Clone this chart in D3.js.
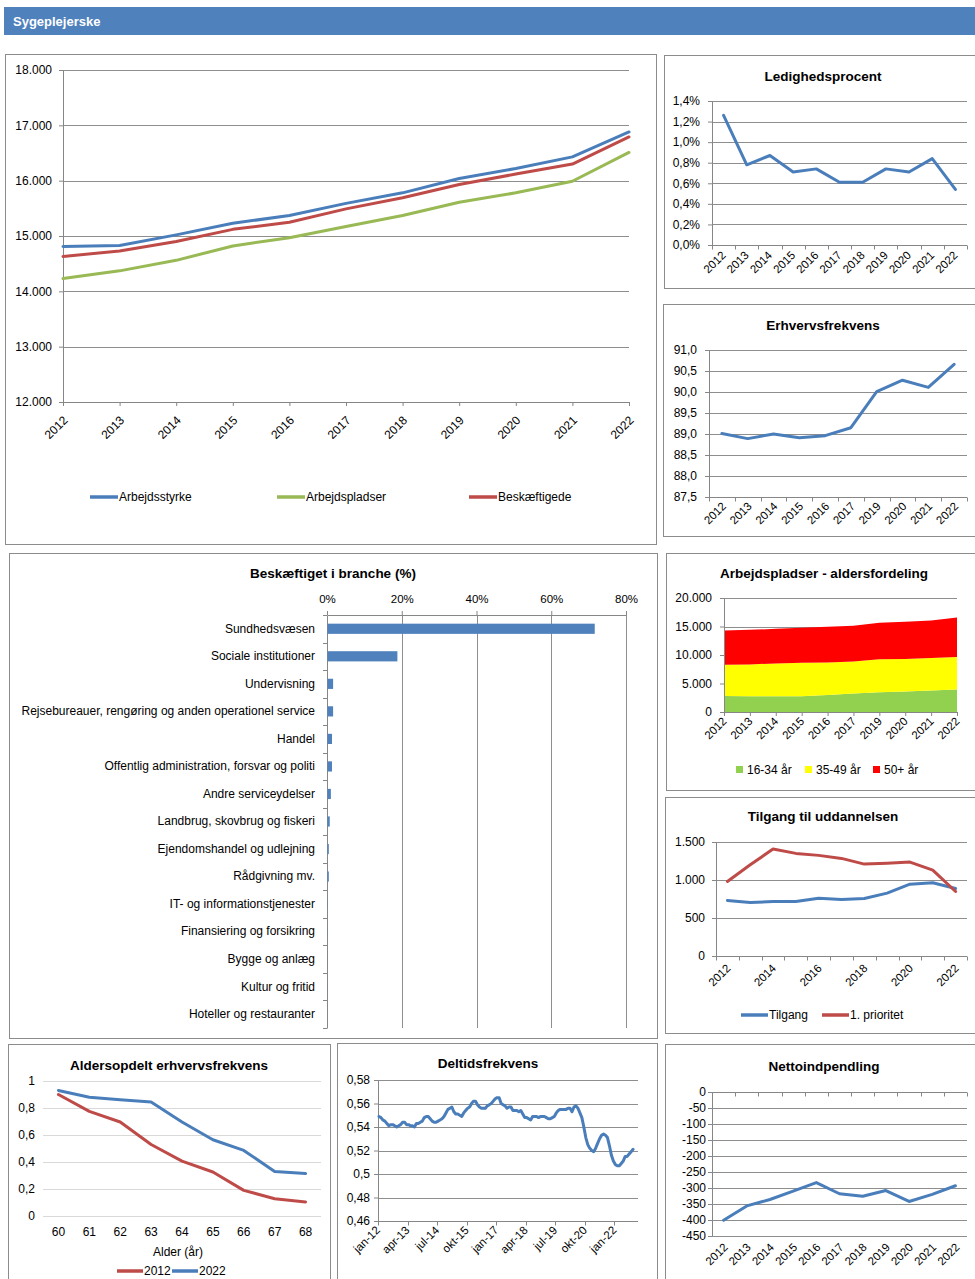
<!DOCTYPE html>
<html>
<head>
<meta charset="utf-8">
<script src="https://cdn.jsdelivr.net/npm/d3@7"></script>
<style>
body{margin:0;background:#fff;}
text{font-family:"Liberation Sans",Arial,sans-serif;fill:#000;}
.title{font-weight:bold;font-size:13.5px;}
</style>
</head>
<body>
<svg id="chart" width="975" height="1279"></svg>
<script>
// ---------- data ----------
var years = ["2012","2013","2014","2015","2016","2017","2018","2019","2020","2021","2022"];
var arbejdsstyrke  = [14810, 14830, 15020, 15230, 15370, 15590, 15780, 16040, 16220, 16430, 16880];
var arbejdspladser = [14230, 14370, 14560, 14820, 14970, 15170, 15370, 15610, 15780, 15990, 16510];
var beskaeftigede  = [14630, 14730, 14900, 15120, 15250, 15490, 15690, 15930, 16120, 16300, 16790];
var mainTicks = [12000, 13000, 14000, 15000, 16000, 17000, 18000];

var ledighed = [0.0126, 0.0078, 0.0087, 0.0071, 0.0074, 0.0061, 0.0061, 0.0074, 0.0071, 0.0084, 0.0054];
var ledighedTicks = [0, 0.002, 0.004, 0.006, 0.008, 0.010, 0.012, 0.014];

// 2018 mangler i disse to serier
var years10 = ["2012","2013","2014","2015","2016","2017","2019","2020","2021","2022"];
var erhverv = [89.01, 88.89, 89.00, 88.91, 88.96, 89.15, 90.01, 90.28, 90.11, 90.66];
var erhvervTicks = [87.5, 88, 88.5, 89, 89.5, 90, 90.5, 91];

var brancher = ["Sundhedsvæsen","Sociale institutioner","Undervisning",
  "Rejsebureauer, rengøring og anden operationel service","Handel",
  "Offentlig administration, forsvar og politi","Andre serviceydelser",
  "Landbrug, skovbrug og fiskeri","Ejendomshandel og udlejning","Rådgivning mv.",
  "IT- og informationstjenester","Finansiering og forsikring","Bygge og anlæg",
  "Kultur og fritid","Hoteller og restauranter"];
var brancheAndel = [0.715, 0.187, 0.015, 0.015, 0.012, 0.012, 0.009, 0.006, 0.0035, 0.0035, 0.0005, 0.0003, 0.0002, 0.0002, 0.0001];
var brancheTicks = [0, 0.2, 0.4, 0.6, 0.8];

var alder1634 = [2820, 2760, 2760, 2760, 3000, 3240, 3470, 3590, 3760, 3940];
var alder3549 = [5470, 5590, 5770, 5890, 5700, 5640, 5770, 5700, 5710, 5710];
var alder50   = [6000, 6060, 6060, 6110, 6240, 6240, 6410, 6530, 6590, 6940];
var alderTicks = [0, 5000, 10000, 15000, 20000];
var alderKeys = ["16-34 år", "35-49 år", "50+ år"];

var tilgang    = [730, 704, 717, 717, 761, 743, 756, 827, 945, 963, 888];
var prioritet1 = [981, 1200, 1407, 1350, 1324, 1284, 1209, 1222, 1236, 1130, 849];
var tilgangTicks = [0, 500, 1000, 1500];

var alder = ["60","61","62","63","64","65","66","67","68"];
var frek2012 = [0.900, 0.775, 0.696, 0.530, 0.407, 0.326, 0.190, 0.128, 0.104];
var frek2022 = [0.930, 0.880, 0.862, 0.845, 0.696, 0.565, 0.486, 0.330, 0.314];
var frekTicks = [0, 0.2, 0.4, 0.6, 0.8, 1];

var monthNames = ["jan","feb","mar","apr","maj","jun","jul","aug","sep","okt","nov","dec"];
var deltid = [
  0.549,0.548,0.546,0.545,0.543,0.541,0.542,0.542,0.541,0.540,
  0.541,0.542,0.544,0.544,0.542,0.542,0.541,0.541,0.540,0.543,
  0.543,0.544,0.545,0.548,0.549,0.549,0.547,0.545,0.544,0.544,
  0.545,0.546,0.547,0.549,0.552,0.555,0.556,0.557,0.553,0.551,
  0.551,0.550,0.549,0.552,0.554,0.556,0.557,0.560,0.562,0.562,
  0.559,0.557,0.556,0.556,0.556,0.558,0.559,0.560,0.562,0.564,
  0.565,0.565,0.560,0.559,0.558,0.556,0.557,0.557,0.554,0.554,
  0.554,0.553,0.554,0.551,0.548,0.548,0.547,0.546,0.549,0.549,
  0.549,0.548,0.549,0.549,0.549,0.548,0.547,0.547,0.548,0.549,
  0.552,0.554,0.555,0.555,0.555,0.555,0.556,0.556,0.553,0.557,
  0.558,0.556,0.552,0.548,0.540,0.531,0.525,0.522,0.520,0.519,
  0.522,0.526,0.530,0.533,0.534,0.533,0.531,0.524,0.516,0.511,
  0.508,0.507,0.507,0.509,0.511,0.515,0.515,0.517,0.519,0.521];
var deltidTicks = [0.46, 0.48, 0.5, 0.52, 0.54, 0.56, 0.58];

var netto = [-401, -356, -336, -310, -283, -318, -326, -308, -342, -320, -293];
var nettoTicks = [-450, -400, -350, -300, -250, -200, -150, -100, -50, 0];

// ---------- setup ----------
var svg = d3.select("#chart");
var loc = d3.formatLocale({decimal: ",", thousands: ".", grouping: [3], currency: ["", " kr"], minus: "-"});
var fmtThousand = loc.format(",.0f");
var fmtPct1 = loc.format(".1%");
var fmtPct0 = loc.format(".0%");
var fmtOne = loc.format(".1f");
var fmtShort = loc.format("~g");

var gridColor = "#8e8e8e", axisColor = "#868686", lightGrid = "#d9d9d9";
var blue = "#4a7ebb", red = "#be4b48", green = "#98b954";

function panel(x, y, w, h){
	svg.append("rect").attr("x", x + 0.5).attr("y", y + 0.5).attr("width", w).attr("height", h)
		.attr("fill", "#fff").attr("stroke", "#8c8c8c").attr("stroke-width", 1);
}
function title(cx, y, txt){
	svg.append("text").attr("class", "title").attr("x", cx).attr("y", y)
		.attr("text-anchor", "middle").text(txt);
}
function styleAxis(g, size){
	g.attr("font-family", null).attr("font-size", size || 12);
	g.select(".domain").attr("stroke", axisColor);
	g.selectAll(".tick line").attr("stroke", axisColor);
	return g;
}
function hGrid(y, ticks, x0, x1, color){
	svg.append("g").selectAll("line").data(ticks).enter().append("line")
		.attr("x1", x0).attr("x2", x1)
		.attr("y1", function(d){ return Math.round(y(d)) + 0.5; })
		.attr("y2", function(d){ return Math.round(y(d)) + 0.5; })
		.attr("stroke", color || gridColor);
}
function rotateLabels(g, dx, dy){
	g.selectAll(".tick text")
		.attr("x", 0).attr("y", 0).attr("dy", "0.35em")
		.attr("text-anchor", "end")
		.attr("transform", "translate(" + dx + "," + dy + ") rotate(-45)");
}
function drawLine(x, y, cats, values, color, width){
	var line = d3.line()
		.x(function(d, i){ return x(cats[i]) + (x.bandwidth ? x.bandwidth() / 2 : 0); })
		.y(function(d){ return y(d); });
	svg.append("path").datum(values).attr("d", line)
		.attr("fill", "none").attr("stroke", color).attr("stroke-width", width || 3)
		.attr("stroke-linejoin", "round").attr("stroke-linecap", "round");
}
function legendLine(x, y, color, label, len){
	len = len || 28;
	svg.append("line").attr("x1", x).attr("x2", x + len).attr("y1", y).attr("y2", y)
		.attr("stroke", color).attr("stroke-width", 3.5);
	svg.append("text").attr("x", x + len + 1).attr("y", y).attr("dy", "0.35em")
		.attr("font-size", 12).text(label);
}
// small panel: band category axis, ticks between categories
function catLinePanel(c){
	var x = d3.scaleBand().domain(c.cats).range([c.x0, c.x1]);
	hGrid(c.y, c.ticks, c.x0, c.x1);
	var gy = svg.append("g").attr("transform", "translate(" + c.x0 + ",0)")
		.call(d3.axisLeft(c.y).tickValues(c.ticks).tickFormat(c.fmt).tickSize(4).tickSizeOuter(0).tickPadding(c.pad));
	styleAxis(gy, 12);
	// x axis line + tick marks at band boundaries
	var ax = Math.round(c.axisAt) + 0.5;
	svg.append("line").attr("x1", c.x0).attr("x2", c.x1).attr("y1", ax).attr("y2", ax).attr("stroke", axisColor);
	svg.append("g").selectAll("line").data(d3.range(c.cats.length + 1)).enter().append("line")
		.attr("x1", function(i){ return Math.round(c.x0 + i * x.step()) + 0.5; })
		.attr("x2", function(i){ return Math.round(c.x0 + i * x.step()) + 0.5; })
		.attr("y1", ax).attr("y2", ax + 4).attr("stroke", axisColor);
	var gx = svg.append("g").attr("transform", "translate(0," + c.labelAt + ")")
		.call(d3.axisBottom(x).tickValues(c.labelCats || c.cats).tickSize(0));
	gx.select(".domain").remove();
	styleAxis(gx, 11.5);
	rotateLabels(gx, c.shift[0], c.shift[1]);
	c.series.forEach(function(s){ drawLine(x, c.y, c.cats, s.values, s.color); });
	return x;
}

// ---------- header ----------
svg.append("rect").attr("x", 4).attr("y", 7).attr("width", 971).attr("height", 28).attr("fill", "#4f81bd");
svg.append("text").attr("x", 13).attr("y", 26).attr("font-size", 13).attr("font-weight", "bold")
	.style("fill", "#fff").text("Sygeplejerske");

// ---------- 1. Arbejdsstyrke / pladser / beskæftigede ----------
panel(5, 54, 651, 490);
var x1 = d3.scalePoint().domain(years).range([63, 629]);
var y1 = d3.scaleLinear().domain([12000, 18000]).range([402, 70]);
hGrid(y1, mainTicks, 63, 629);
styleAxis(svg.append("g").attr("transform", "translate(63,0)")
	.call(d3.axisLeft(y1).tickValues(mainTicks).tickFormat(fmtThousand).tickSize(4).tickSizeOuter(0).tickPadding(7)), 12);
var gx1 = svg.append("g").attr("transform", "translate(0,402)")
	.call(d3.axisBottom(x1).tickSize(4).tickSizeOuter(0));
styleAxis(gx1, 12);
rotateLabels(gx1, 2, 16);
drawLine(x1, y1, years, arbejdspladser, green);
drawLine(x1, y1, years, beskaeftigede, red);
drawLine(x1, y1, years, arbejdsstyrke, blue);
legendLine(90, 497, blue, "Arbejdsstyrke");
legendLine(277, 497, green, "Arbejdspladser");
legendLine(469, 497, red, "Beskæftigede");

// ---------- 2. Ledighedsprocent ----------
panel(664, 55, 320, 233);
title(823, 81, "Ledighedsprocent");
catLinePanel({cats: years, x0: 712, x1: 967, y: d3.scaleLinear().domain([0, 0.014]).range([245, 101]),
	ticks: ledighedTicks, fmt: fmtPct1, pad: 8, axisAt: 245, labelAt: 245, shift: [0, 8],
	series: [{values: ledighed, color: blue}]});

// ---------- 3. Erhvervsfrekvens ----------
panel(663, 304, 320, 232);
title(823, 330, "Erhvervsfrekvens");
catLinePanel({cats: years10, x0: 709, x1: 967, y: d3.scaleLinear().domain([87.5, 91]).range([497, 350]),
	ticks: erhvervTicks, fmt: fmtOne, pad: 8, axisAt: 497, labelAt: 497, shift: [2, 7],
	series: [{values: erhverv, color: blue}]});

// ---------- 4. Beskæftiget i branche ----------
panel(9, 553, 648, 485);
title(333, 578, "Beskæftiget i branche (%)");
var x4 = d3.scaleLinear().domain([0, 0.8]).range([327, 626]);
var y4 = d3.scaleBand().domain(brancher).range([615, 1028]).paddingInner(0.63).paddingOuter(0.315);
svg.append("g").selectAll("line").data(brancheTicks.slice(1)).enter().append("line")
	.attr("x1", function(d){ return Math.round(x4(d)) + 0.5; })
	.attr("x2", function(d){ return Math.round(x4(d)) + 0.5; })
	.attr("y1", 615).attr("y2", 1028).attr("stroke", gridColor);
styleAxis(svg.append("g").attr("transform", "translate(0,615)")
	.call(d3.axisTop(x4).tickValues(brancheTicks).tickFormat(fmtPct0).tickSize(4).tickSizeOuter(0).tickPadding(8)), 11.5);
styleAxis(svg.append("g").attr("transform", "translate(327,0)")
	.call(d3.axisLeft(y4).tickSize(0).tickPadding(12)), 12);
svg.append("g").selectAll("line").data(d3.range(brancher.length + 1)).enter().append("line")
	.attr("x1", 323).attr("x2", 327)
	.attr("y1", function(i){ return Math.round(615 + i * y4.step()) + 0.5; })
	.attr("y2", function(i){ return Math.round(615 + i * y4.step()) + 0.5; })
	.attr("stroke", axisColor);
svg.append("g").selectAll("rect").data(brancheAndel).enter().append("rect")
	.attr("x", x4(0) + 0.5)
	.attr("y", function(d, i){ return y4(brancher[i]); })
	.attr("width", function(d){ return x4(d) - x4(0); })
	.attr("height", y4.bandwidth())
	.attr("fill", "#4f81bd");

// ---------- 5. Arbejdspladser - aldersfordeling ----------
panel(666, 553, 318, 237);
title(824, 578, "Arbejdspladser - aldersfordeling");
var x5 = d3.scalePoint().domain(years10).range([724, 957]);
var y5 = d3.scaleLinear().domain([0, 20000]).range([712, 598]);
hGrid(y5, alderTicks, 724, 957);
var alderRows = years10.map(function(yr, i){
	return {year: yr, "16-34 år": alder1634[i], "35-49 år": alder3549[i], "50+ år": alder50[i]};
});
var stack = d3.stack().keys(alderKeys)(alderRows);
var alderColors = ["#92d050", "#ffff00", "#ff0000"];
var area5 = d3.area().x(function(d){ return x5(d.data.year); })
	.y0(function(d){ return y5(d[0]); }).y1(function(d){ return y5(d[1]); });
svg.append("g").selectAll("path").data(stack).enter().append("path")
	.attr("d", area5).attr("fill", function(d, i){ return alderColors[i]; });
styleAxis(svg.append("g").attr("transform", "translate(724,0)")
	.call(d3.axisLeft(y5).tickValues(alderTicks).tickFormat(fmtThousand).tickSize(4).tickSizeOuter(0).tickPadding(8)), 12);
var gx5 = svg.append("g").attr("transform", "translate(0,712)")
	.call(d3.axisBottom(x5).tickSize(4).tickSizeOuter(0));
styleAxis(gx5, 11.5);
rotateLabels(gx5, 0, 7);
var leg5 = [736, 805, 873];
alderKeys.forEach(function(k, i){
	svg.append("rect").attr("x", leg5[i]).attr("y", 766).attr("width", 7).attr("height", 7).attr("fill", alderColors[i]);
	svg.append("text").attr("x", leg5[i] + 11).attr("y", 770).attr("dy", "0.35em").attr("font-size", 12).text(k);
});

// ---------- 6. Tilgang til uddannelsen ----------
panel(665, 797, 318, 236);
title(823, 821, "Tilgang til uddannelsen");
catLinePanel({cats: years, x0: 716, x1: 967, y: d3.scaleLinear().domain([0, 1500]).range([956, 842]),
	ticks: tilgangTicks, fmt: fmtThousand, pad: 7, axisAt: 956, labelAt: 956, shift: [1, 10],
	labelCats: years.filter(function(d, i){ return i % 2 === 0; }),
	series: [{values: tilgang, color: blue}, {values: prioritet1, color: red}]});
legendLine(741, 1015, blue, "Tilgang", 27);
legendLine(822, 1015, red, "1. prioritet", 27);

// ---------- 7. Aldersopdelt erhvervsfrekvens ----------
panel(8, 1044, 322, 250);
title(169, 1070, "Aldersopdelt erhvervsfrekvens");
var x7 = d3.scaleBand().domain(alder).range([43, 321]);
var y7 = d3.scaleLinear().domain([0, 1]).range([1216, 1081]);
hGrid(y7, frekTicks, 43, 321, lightGrid);
var gy7 = svg.append("g").attr("transform", "translate(43,0)")
	.call(d3.axisLeft(y7).tickValues(frekTicks).tickFormat(fmtShort).tickSize(0).tickPadding(8));
gy7.select(".domain").remove();
styleAxis(gy7, 12);
var gx7 = svg.append("g").attr("transform", "translate(0,1216)")
	.call(d3.axisBottom(x7).tickSize(0).tickPadding(11));
gx7.select(".domain").remove();
styleAxis(gx7, 12);
svg.append("text").attr("x", 178).attr("y", 1252).attr("dy", "0.35em").attr("text-anchor", "middle")
	.attr("font-size", 12).text("Alder (år)");
drawLine(x7, y7, alder, frek2012, red);
drawLine(x7, y7, alder, frek2022, blue);
legendLine(117, 1271, red, "2012", 26);
legendLine(172, 1271, blue, "2022", 26);

// ---------- 8. Deltidsfrekvens ----------
panel(337, 1043, 320, 250);
title(488, 1068, "Deltidsfrekvens");
var months = [];
d3.range(12, 23).forEach(function(yr){
	monthNames.forEach(function(m){ months.push(m + "-" + yr); });
});
var x8 = d3.scaleBand().domain(months).range([378, 638]);
var y8 = d3.scaleLinear().domain([0.46, 0.58]).range([1221, 1080]);
hGrid(y8, deltidTicks, 378, 638);
styleAxis(svg.append("g").attr("transform", "translate(378,0)")
	.call(d3.axisLeft(y8).tickValues(deltidTicks).tickFormat(fmtShort).tickSize(4).tickSizeOuter(0).tickPadding(4)), 12);
var labelMonths = months.filter(function(d, i){ return i % 15 === 0; });
svg.append("line").attr("x1", 378).attr("x2", 638).attr("y1", 1221.5).attr("y2", 1221.5).attr("stroke", axisColor);
svg.append("g").selectAll("line").data(labelMonths).enter().append("line")
	.attr("x1", function(d){ return Math.round(x8(d)) + 0.5; })
	.attr("x2", function(d){ return Math.round(x8(d)) + 0.5; })
	.attr("y1", 1221.5).attr("y2", 1225.5).attr("stroke", axisColor);
var gx8 = svg.append("g").attr("transform", "translate(0,1221)")
	.call(d3.axisBottom(x8).tickValues(labelMonths).tickSize(0));
gx8.select(".domain").remove();
styleAxis(gx8, 11.5);
rotateLabels(gx8, -1, 7);
drawLine(x8, y8, months, deltid, blue, 3);

// ---------- 9. Nettoindpendling ----------
panel(665, 1044, 318, 250);
title(824, 1071, "Nettoindpendling");
var y9 = d3.scaleLinear().domain([-450, 0]).range([1236, 1092]);
catLinePanel({cats: years, x0: 712, x1: 967, y: y9,
	ticks: nettoTicks, fmt: loc.format("d"), pad: 2, axisAt: y9(0), labelAt: 1236, shift: [2, 9],
	series: [{values: netto, color: blue}]});
</script>
</body>
</html>
